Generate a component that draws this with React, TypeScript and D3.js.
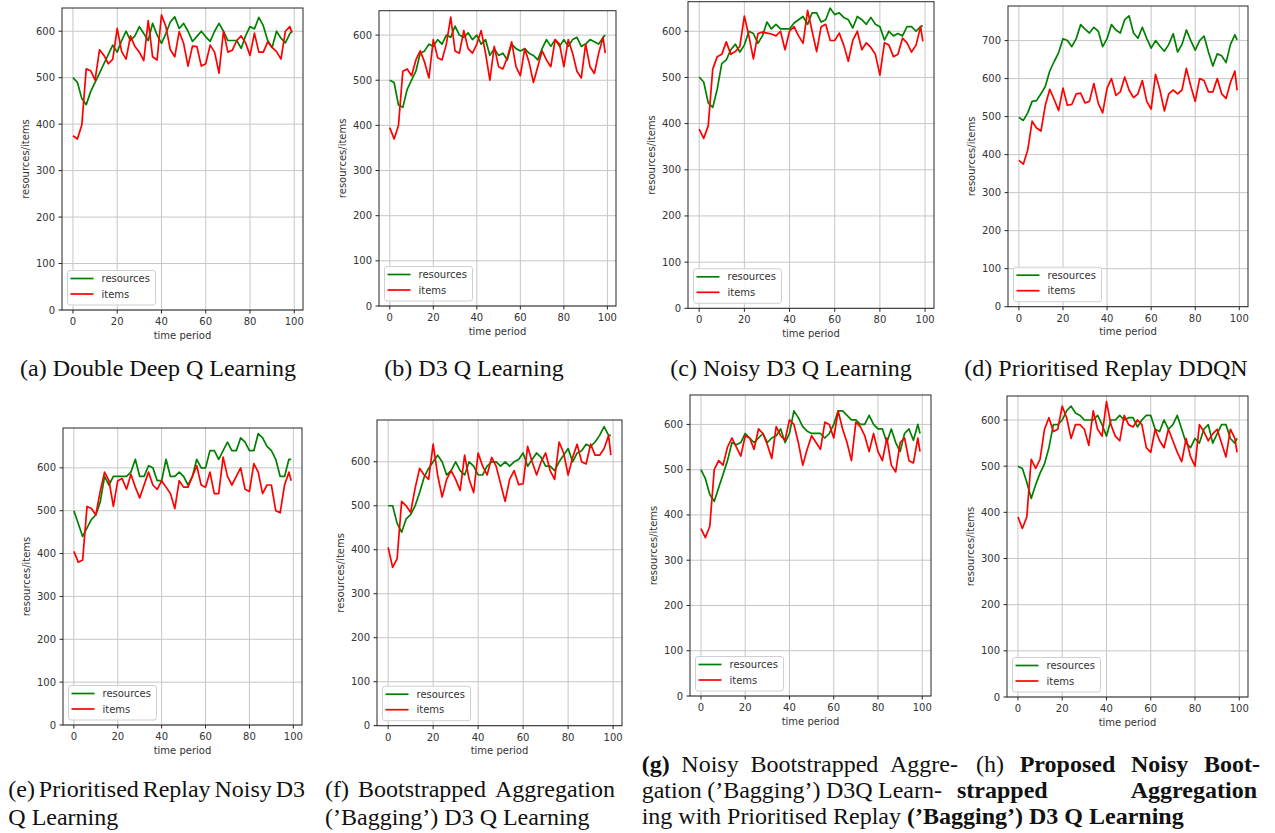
import * as d3 from 'd3';

// time steps (sampled every 2 periods, plus the last one)
const T = [0, 2, 4, 6, 8, 10, 12, 14, 16, 18, 20, 22, 24, 26, 28, 30, 32, 34, 36, 38, 40, 42, 44, 46, 48, 50,
  52, 54, 56, 58, 60, 62, 64, 66, 68, 70, 72, 74, 76, 78, 80, 82, 84, 86, 88, 90, 92, 94, 96, 98, 99];

// (a) Double Deep Q Learning
const resA = [500, 490, 455, 442, 470, 490, 510, 530, 550, 570, 555, 580, 600, 580, 590, 610, 595, 580, 617, 592,
  574, 595, 620, 631, 606, 617, 600, 578, 589, 600, 588, 578, 600, 617, 600, 580, 580, 580, 563, 590,
  610, 605, 630, 612, 580, 565, 600, 585, 575, 595, 600];
const itemsA = [375, 368, 398, 519, 515, 495, 560, 548, 530, 540, 606, 556, 540, 590, 567, 555, 537, 623, 545, 538,
  635, 610, 560, 545, 599, 574, 525, 568, 567, 525, 530, 570, 555, 510, 600, 555, 559, 580, 590, 575,
  548, 596, 555, 555, 577, 565, 556, 540, 600, 610, 597];

// (b) D3 Q Learning
const resB = [500, 495, 445, 440, 480, 500, 520, 560, 565, 580, 575, 590, 580, 600, 595, 620, 600, 595, 605, 590,
  600, 580, 590, 555, 570, 555, 560, 545, 580, 570, 565, 570, 560, 555, 545, 570, 590, 575, 590, 575,
  590, 575, 590, 595, 575, 580, 590, 585, 580, 595, 600];
const itemsB = [395, 370, 400, 520, 525, 510, 545, 565, 540, 505, 590, 550, 545, 580, 640, 565, 560, 610, 570, 560,
  580, 610, 560, 500, 575, 530, 525, 550, 585, 530, 510, 570, 540, 495, 530, 565, 545, 530, 590, 580,
  530, 590, 560, 520, 505, 580, 530, 515, 560, 595, 560];

// (c) Noisy D3 Q Learning
const resC = [501, 490, 445, 435, 475, 530, 538, 560, 572, 555, 570, 600, 595, 574, 590, 620, 605, 615, 605, 605,
  605, 618, 625, 632, 615, 640, 640, 620, 625, 650, 636, 640, 630, 625, 607, 632, 625, 615, 630, 615,
  610, 581, 600, 590, 595, 590, 610, 610, 600, 610, 612];
const itemsC = [388, 368, 395, 518, 545, 550, 577, 550, 556, 567, 633, 590, 540, 595, 598, 596, 594, 590, 600, 560,
  600, 610, 590, 574, 645, 600, 556, 610, 615, 580, 580, 596, 570, 535, 580, 600, 560, 575, 565, 550,
  505, 575, 570, 545, 550, 585, 575, 555, 570, 610, 578];

// (d) Prioritised Replay DDQN
const resD = [498, 490, 510, 540, 542, 560, 580, 620, 645, 668, 705, 700, 684, 705, 742, 730, 720, 735, 725, 684,
  705, 742, 728, 720, 755, 765, 720, 706, 735, 706, 680, 700, 685, 672, 690, 718, 670, 690, 728, 700,
  675, 700, 712, 670, 633, 665, 660, 642, 690, 715, 702];
const itemsD = [385, 375, 412, 488, 470, 462, 530, 572, 545, 516, 575, 530, 532, 560, 562, 536, 540, 587, 535, 510,
  575, 600, 556, 565, 604, 570, 550, 560, 595, 540, 520, 611, 570, 515, 560, 570, 560, 570, 627, 580,
  540, 600, 595, 565, 565, 600, 560, 548, 590, 620, 569];

// (e) Prioritised Replay Noisy D3 Q Learning
const resE = [500, 470, 440, 460, 480, 490, 520, 580, 560, 580, 580, 580, 580, 590, 620, 580, 580, 605, 600, 570,
  570, 620, 580, 580, 590, 580, 560, 580, 620, 600, 600, 640, 640, 620, 640, 660, 640, 640, 670, 660,
  640, 640, 680, 670, 650, 640, 620, 580, 580, 620, 620];
const itemsE = [405, 380, 385, 510, 505, 490, 545, 590, 570, 510, 570, 575, 550, 585, 555, 530, 560, 590, 560, 550,
  570, 555, 540, 505, 570, 555, 555, 580, 605, 560, 555, 590, 540, 540, 625, 580, 560, 580, 600, 550,
  545, 610, 590, 540, 560, 560, 500, 495, 560, 590, 570];

// (f) Bootstrapped Aggregation ('Bagging') D3 Q Learning
const resF = [500, 500, 460, 440, 470, 480, 500, 530, 565, 585, 600, 615, 600, 570, 580, 600, 580, 570, 600, 590,
  570, 570, 590, 600, 600, 590, 600, 590, 600, 605, 620, 590, 605, 620, 610, 590, 590, 580, 600, 615,
  630, 600, 620, 625, 640, 635, 645, 660, 680, 660, 660];
const itemsF = [405, 360, 380, 510, 500, 485, 540, 585, 570, 560, 640, 570, 520, 560, 580, 560, 535, 615, 560, 530,
  620, 590, 570, 610, 590, 550, 510, 560, 580, 548, 550, 635, 600, 570, 600, 620, 580, 560, 645, 620,
  570, 610, 640, 600, 595, 640, 615, 615, 630, 660, 615];

// (g) Noisy Bootstrapped Aggregation ('Bagging') D3Q Learning with Prioritised Replay
const resG = [500, 480, 445, 430, 460, 490, 520, 560, 555, 560, 580, 570, 560, 570, 580, 560, 570, 575, 590, 560,
  580, 630, 615, 595, 585, 580, 580, 580, 570, 580, 600, 630, 630, 620, 610, 610, 600, 600, 620, 600,
  590, 590, 560, 590, 560, 540, 580, 590, 565, 600, 580];
const itemsG = [370, 350, 375, 500, 520, 510, 550, 570, 550, 530, 575, 570, 545, 590, 580, 555, 525, 595, 575, 565,
  610, 600, 560, 510, 545, 575, 560, 545, 605, 600, 570, 630, 590, 560, 520, 605, 595, 575, 540, 580,
  540, 520, 570, 510, 495, 560, 570, 520, 515, 570, 540];

// (h) Proposed Noisy Bootstrapped Aggregation ('Bagging') D3 Q Learning
const resH = [500, 495, 465, 430, 460, 485, 505, 540, 590, 590, 600, 620, 630, 615, 610, 600, 600, 600, 610, 590,
  565, 600, 600, 610, 600, 605, 605, 585, 600, 610, 610, 580, 575, 600, 580, 590, 610, 580, 550, 540,
  560, 550, 580, 590, 550, 570, 590, 590, 560, 550, 560];
const itemsH = [390, 365, 390, 515, 495, 515, 580, 605, 575, 580, 630, 605, 560, 590, 590, 580, 545, 620, 580, 565,
  640, 590, 565, 555, 610, 590, 585, 600, 590, 540, 530, 580, 555, 540, 580, 555, 530, 510, 560, 520,
  500, 590, 575, 555, 570, 580, 550, 520, 580, 560, 530];

const X_TICKS = [0, 20, 40, 60, 80, 100];
const Y_TICKS = [0, 100, 200, 300, 400, 500, 600];
const Y_TICKS_D = [0, 100, 200, 300, 400, 500, 600, 700];

const GREEN = '#008000';
const RED = '#ff0000';
const GRID = '#c6c6c6';
const INK = '#262626';
const SANS = '"DejaVu Sans", sans-serif';
const SERIF = '"Liberation Serif", "Times New Roman", serif';
const CAP_SIZE = 24;

// plot boxes in page pixels and the y limit of each axis
const PANELS = [
  { res: resA, items: itemsA, left: 62, right: 303, top: 8, bottom: 310, yMax: 650, yTicks: Y_TICKS },
  { res: resB, items: itemsB, left: 379, right: 616, top: 10.7, bottom: 306, yMax: 654, yTicks: Y_TICKS },
  { res: resC, items: itemsC, left: 688, right: 934, top: 1.7, bottom: 308.3, yMax: 664, yTicks: Y_TICKS },
  { res: resD, items: itemsD, left: 1008, right: 1248, top: 6, bottom: 306.7, yMax: 791, yTicks: Y_TICKS_D },
  { res: resE, items: itemsE, left: 63, right: 302, top: 428, bottom: 725, yMax: 693, yTicks: Y_TICKS },
  { res: resF, items: itemsF, left: 377, right: 622, top: 420, bottom: 725.7, yMax: 695, yTicks: Y_TICKS },
  { res: resG, items: itemsG, left: 690, right: 931, top: 395, bottom: 696, yMax: 665, yTicks: Y_TICKS },
  { res: resH, items: itemsH, left: 1007, right: 1248, top: 396, bottom: 697, yMax: 652, yTicks: Y_TICKS },
];

type Word = [string, boolean];
type CapLine = { words: Word[]; x0: number; x1?: number; y: number; middle?: boolean };

const CAPTIONS: CapLine[] = [
  { words: [['(a) Double Deep Q Learning', false]], x0: 158, y: 376, middle: true },
  { words: [['(b) D3 Q Learning', false]], x0: 474, y: 376, middle: true },
  { words: [['(c) Noisy D3 Q Learning', false]], x0: 791, y: 376, middle: true },
  { words: [['(d) Prioritised Replay DDQN', false]], x0: 1106, y: 376, middle: true },
  { words: [['(e)', false], ['Prioritised', false], ['Replay', false], ['Noisy', false], ['D3', false]], x0: 8.3, x1: 305, y: 797 },
  { words: [['Q', false], ['Learning', false]], x0: 8.3, y: 824.5 },
  { words: [['(f)', false], ['Bootstrapped', false], ['Aggregation', false]], x0: 325, x1: 615, y: 797 },
  { words: [['(\u2019Bagging\u2019)', false], ['D3', false], ['Q', false], ['Learning', false]], x0: 325, y: 824.5 },
  { words: [['(g)', true], ['Noisy', false], ['Bootstrapped', false], ['Aggre-', false]], x0: 641.7, x1: 958, y: 772 },
  { words: [['gation', false], ['(\u2019Bagging\u2019)', false], ['D3Q', false], ['Learn-', false]], x0: 641.7, x1: 942, y: 798 },
  { words: [['ing', false], ['with', false], ['Prioritised', false], ['Replay', false]], x0: 641.7, y: 823.5 },
  { words: [['(h)', false], ['Proposed', true], ['Noisy', true], ['Boot-', true]], x0: 976, x1: 1260, y: 772 },
  { words: [['strapped', true], ['Aggregation', true]], x0: 957, x1: 1257, y: 798 },
  { words: [['(\u2019Bagging\u2019)', true], ['D3', true], ['Q', true], ['Learning', true]], x0: 907, y: 823.5 },
];

let ctx: CanvasRenderingContext2D | null = null;
const textWidth = (t: string, bold: boolean) => {
  if (!ctx) ctx = document.createElement('canvas').getContext('2d');
  ctx!.font = `${bold ? 'bold ' : ''}${CAP_SIZE}px "Liberation Serif"`;
  return ctx!.measureText(t).width;
};

const layoutLine = (line: CapLine) => {
  const widths = line.words.map(([t, b]) => textWidth(t, b));
  let gap = textWidth(' ', false);
  if (line.x1 !== undefined && line.words.length > 1) {
    gap = (line.x1 - line.x0 - d3.sum(widths)) / (line.words.length - 1);
  }
  let x = line.x0;
  return line.words.map(([t, b], i) => {
    const w = { t, b, x };
    x += widths[i] + gap;
    return w;
  });
};

const Panel = ({ p }: { p: typeof PANELS[number] }) => {
  const x = d3.scaleLinear().domain([-4.95, 103.95]).range([p.left, p.right]);
  const y = d3.scaleLinear().domain([0, p.yMax]).range([p.bottom, p.top]);
  const line = d3.line<number>().x((_, i) => x(T[i])).y(d => y(d));
  const lx = p.left + 5.5;
  const ly = p.bottom - 39.5;

  return (
    <g>
      {/* grid */}
      {X_TICKS.map(t => (
        <line key={'gx' + t} x1={x(t)} x2={x(t)} y1={p.top} y2={p.bottom} stroke={GRID} strokeWidth={1} />
      ))}
      {p.yTicks.map(t => (
        <line key={'gy' + t} x1={p.left} x2={p.right} y1={y(t)} y2={y(t)} stroke={GRID} strokeWidth={1} />
      ))}

      {/* series */}
      <path d={line(p.res) ?? ''} fill="none" stroke={GREEN} strokeWidth={1.7} strokeLinejoin="round" />
      <path d={line(p.items) ?? ''} fill="none" stroke={RED} strokeWidth={1.7} strokeLinejoin="round" />

      {/* frame */}
      <rect x={p.left} y={p.top} width={p.right - p.left} height={p.bottom - p.top} fill="none" stroke={INK} strokeWidth={1} />

      {/* x axis */}
      {X_TICKS.map(t => (
        <g key={'tx' + t}>
          <line x1={x(t)} x2={x(t)} y1={p.bottom} y2={p.bottom + 3.5} stroke={INK} />
          <text x={x(t)} y={p.bottom + 15} textAnchor="middle" fontFamily={SANS} fontSize={10} fill="#333">{t}</text>
        </g>
      ))}
      <text x={(p.left + p.right) / 2} y={p.bottom + 28.5} textAnchor="middle" fontFamily={SANS} fontSize={10} fill="#333">time period</text>

      {/* y axis */}
      {p.yTicks.map(t => (
        <g key={'ty' + t}>
          <line x1={p.left - 3.5} x2={p.left} y1={y(t)} y2={y(t)} stroke={INK} />
          <text x={p.left - 7} y={y(t)} dy="0.35em" textAnchor="end" fontFamily={SANS} fontSize={10} fill="#333">{t}</text>
        </g>
      ))}
      <text
        transform={`translate(${p.left - 37},${(p.top + p.bottom) / 2}) rotate(-90)`}
        dy="0.35em" textAnchor="middle" fontFamily={SANS} fontSize={10} fill="#333"
      >resources/items</text>

      {/* legend */}
      <rect x={lx} y={ly} width={88} height={34.5} rx={2.5} fill="white" fillOpacity={0.85} stroke="#d0d0d0" />
      <line x1={lx + 3} x2={lx + 26} y1={ly + 8} y2={ly + 8} stroke={GREEN} strokeWidth={1.7} />
      <text x={lx + 34} y={ly + 8} dy="0.35em" fontFamily={SANS} fontSize={10} fill="#333">resources</text>
      <line x1={lx + 3} x2={lx + 26} y1={ly + 23.5} y2={ly + 23.5} stroke={RED} strokeWidth={1.7} />
      <text x={lx + 34} y={ly + 23.5} dy="0.35em" fontFamily={SANS} fontSize={10} fill="#333">items</text>
    </g>
  );
};

export default function App() {
  return (
    <svg
      width={1275}
      height={833}
      style={{ position: 'absolute', left: 0, top: 0, background: 'white' }}
    >
      {PANELS.map((p, i) => <Panel key={i} p={p} />)}
      {CAPTIONS.map((c, i) =>
        c.middle ? (
          <text key={i} x={c.x0} y={c.y} textAnchor="middle" fontFamily={SERIF} fontSize={CAP_SIZE} fill="#111">
            {c.words[0][0]}
          </text>
        ) : (
          <g key={i}>
            {layoutLine(c).map((w, j) => (
              <text key={j} x={w.x} y={c.y} fontFamily={SERIF} fontSize={CAP_SIZE} fontWeight={w.b ? 'bold' : 'normal'} fill="#111">
                {w.t}
              </text>
            ))}
          </g>
        )
      )}
    </svg>
  );
}
